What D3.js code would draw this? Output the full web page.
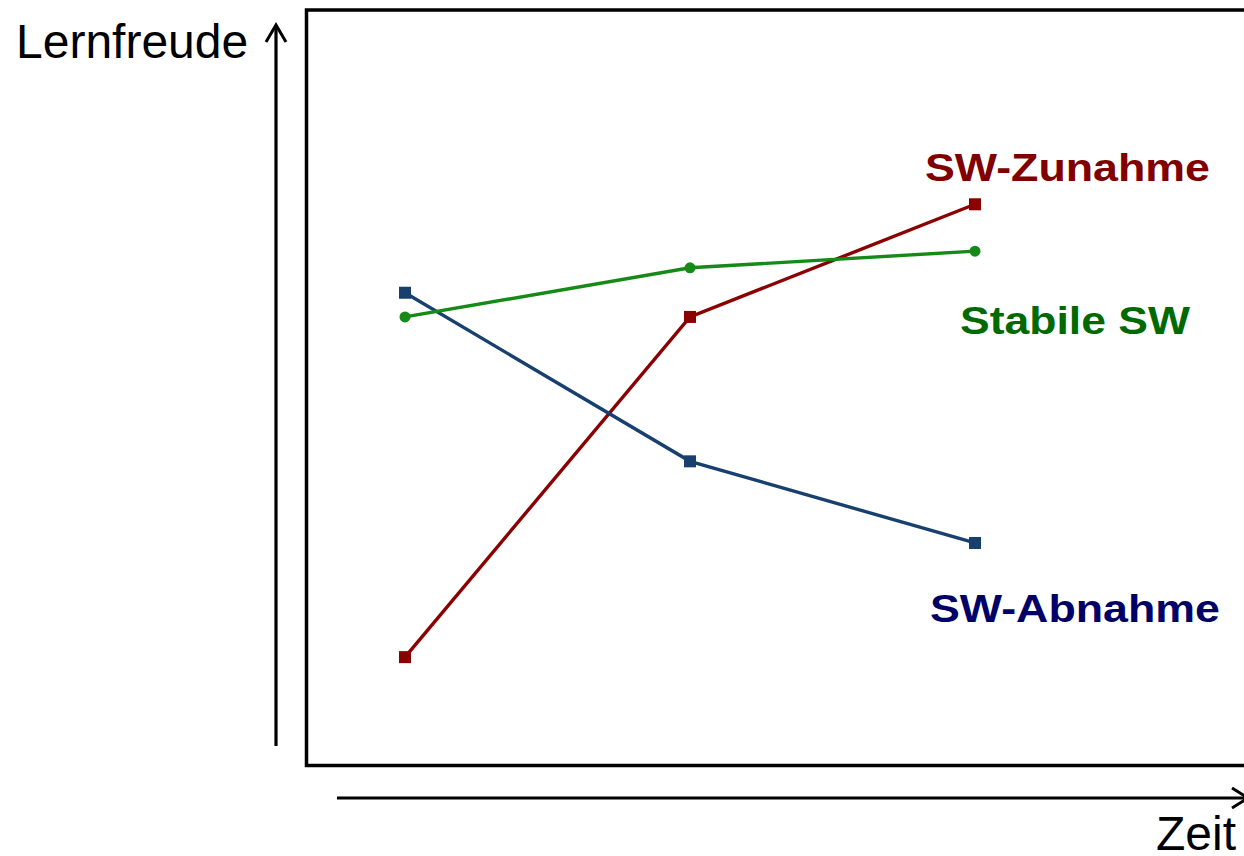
<!DOCTYPE html>
<html>
<head>
<meta charset="utf-8">
<script src="https://cdn.jsdelivr.net/npm/d3@7"></script>
<style>
  body { margin: 0; background: #fff; }
  text { font-family: "Liberation Sans", Arial, sans-serif; }
</style>
</head>
<body>
<div id="container"></div>
<script>
// data (arbitrary units 0-100)
var timePoints = [0, 1, 2];
var zunahme = [14.4, 59.4, 74.3];
var stabil = [59.4, 65.9, 68.1];
var abnahme = [62.6, 40.3, 29.5];
var seriesNames = ["SW-Zunahme", "Stabile SW", "SW-Abnahme"];

// canvas settings
var width = 1244;
var height = 856;

var svg = d3.select("#container")
            .append("svg")
            .attr("width", width)
            .attr("height", height);

// scales
var xScale = d3.scalePoint()
               .domain(timePoints)
               .range([405, 975]);
var yScale = d3.scaleLinear()
               .domain([0, 100])
               .range([766, 10]);

// frame around the plot
svg.append("rect")
   .attr("x", 306.5)
   .attr("y", 10)
   .attr("width", 960)
   .attr("height", 755.5)
   .attr("fill", "none")
   .attr("stroke", "#000")
   .attr("stroke-width", 3.5);

// y arrow
svg.append("line")
   .attr("x1", 276).attr("y1", 746)
   .attr("x2", 276).attr("y2", 26)
   .attr("stroke", "#000").attr("stroke-width", 3.2);
svg.append("path")
   .attr("d", "M266,42 L276,25 L286,42")
   .attr("fill", "none").attr("stroke", "#000").attr("stroke-width", 3);

// x arrow
svg.append("line")
   .attr("x1", 337).attr("y1", 798)
   .attr("x2", 1246).attr("y2", 798)
   .attr("stroke", "#000").attr("stroke-width", 3.2);
svg.append("path")
   .attr("d", "M1232,788 L1248,798 L1232,808")
   .attr("fill", "none").attr("stroke", "#000").attr("stroke-width", 3);

// axis labels
svg.append("text")
   .attr("x", 16).attr("y", 58)
   .attr("font-size", 48)
   .text("Lernfreude");
svg.append("text")
   .attr("x", 1236).attr("y", 850)
   .attr("text-anchor", "end")
   .attr("font-size", 48)
   .text("Zeit");

// lines
var line = d3.line()
             .x(function(d, i) { return xScale(timePoints[i]); })
             .y(function(d) { return yScale(d); });

var series = [
    { values: zunahme, color: "#8b0000", marker: "square" },
    { values: abnahme, color: "#17406e", marker: "square" },
    { values: stabil, color: "#168a16", marker: "circle" }
];

series.forEach(function(s) {
    svg.append("path")
       .attr("d", line(s.values))
       .attr("fill", "none")
       .attr("stroke", s.color)
       .attr("stroke-width", 3.4);

    if (s.marker == "square") {
        svg.selectAll(null)
           .data(s.values)
           .enter()
           .append("rect")
           .attr("x", function(d, i) { return xScale(timePoints[i]) - 6; })
           .attr("y", function(d) { return yScale(d) - 6; })
           .attr("width", 12)
           .attr("height", 12)
           .attr("fill", s.color);
    } else {
        svg.selectAll(null)
           .data(s.values)
           .enter()
           .append("circle")
           .attr("cx", function(d, i) { return xScale(timePoints[i]); })
           .attr("cy", function(d) { return yScale(d); })
           .attr("r", 5.5)
           .attr("fill", s.color);
    }
});

// series labels
var labels = [
    { text: seriesNames[0], x: 925, y: 181, len: 285, color: "#800000" },
    { text: seriesNames[1], x: 960, y: 334, len: 230, color: "#006a00" },
    { text: seriesNames[2], x: 930, y: 622, len: 290, color: "#000066" }
];

svg.selectAll(".seriesLabel")
   .data(labels)
   .enter()
   .append("text")
   .attr("class", "seriesLabel")
   .attr("x", function(d) { return d.x; })
   .attr("y", function(d) { return d.y; })
   .attr("font-size", 38)
   .attr("font-weight", "bold")
   .attr("textLength", function(d) { return d.len; })
   .attr("lengthAdjust", "spacingAndGlyphs")
   .attr("fill", function(d) { return d.color; })
   .text(function(d) { return d.text; });
</script>
</body>
</html>
